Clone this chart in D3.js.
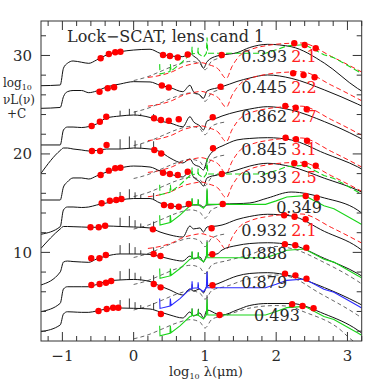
<!DOCTYPE html>
<html><head><meta charset="utf-8">
<script src="https://cdn.jsdelivr.net/npm/d3@7"></script>
<style>body{margin:0;background:#fff}svg{display:block}</style>
</head><body>
<svg id="c" width="382" height="382"></svg>
<script>
// ---------- data ----------
const LOGLAM_GRID = [-1.3,-1.03,-0.985,-0.93,-0.85,-0.73,-0.63,-0.52,-0.38,-0.19,0.0,0.23,0.37,0.51,0.69,0.79,0.84,0.93,0.98,1.03,1.17,1.24,1.45,1.63,1.88,2.21,2.68,3.14,3.2];
const TOTAL = [
 [26.93,27.0,28.70,29.20,29.44,29.31,29.20,29.54,30.05,30.38,30.55,30.63,30.22,29.95,29.88,30.22,29.95,29.37,28.70,29.37,29.95,30.05,30.28,30.81,31.13,30.89,29.20,26.66,26.39],
 [24.63,24.72,25.81,26.32,26.44,26.44,26.22,26.39,26.80,27.10,27.34,27.31,26.97,26.75,26.32,26.97,26.32,25.98,25.65,26.39,26.70,26.83,27.36,27.71,28.02,27.68,26.49,25.07,24.87],
 [20.91,20.91,22.43,22.73,22.73,22.68,22.78,23.04,23.65,23.85,23.95,23.70,23.34,23.14,22.76,23.78,23.27,22.84,22.43,23.34,23.65,23.85,24.29,24.56,24.80,24.46,23.27,21.75,21.52],
 [18.03,20.35,20.60,20.60,20.50,20.40,20.30,20.35,20.50,20.50,20.60,20.50,20.23,19.59,19.08,19.49,18.98,18.67,18.37,19.38,20.57,20.80,21.42,21.57,21.65,21.42,20.06,18.70,18.47],
 [15.32,15.32,16.64,17.15,17.56,17.56,17.45,17.76,18.16,18.57,18.77,18.67,18.27,17.96,17.66,18.27,17.66,17.15,16.74,17.56,17.86,17.96,18.37,18.77,19.05,18.70,17.52,16.33,16.13],
 [11.84,12.61,14.31,14.61,14.61,14.56,14.61,14.81,15.02,15.32,15.47,15.47,15.02,14.76,14.61,14.81,14.81,14.81,14.61,14.81,14.86,14.91,14.95,15.02,15.52,16.13,15.52,14.31,14.00],
 [10.41,12.38,12.63,12.63,12.61,12.58,12.55,12.55,12.68,12.63,12.58,12.48,12.07,11.77,11.56,12.68,12.38,12.48,12.07,12.58,12.68,12.78,13.34,13.65,13.87,13.70,12.12,10.55,10.24],
 [6.69,8.01,9.02,9.12,9.07,9.02,8.99,9.33,9.63,9.84,9.84,9.79,9.58,9.33,9.12,9.63,9.33,9.53,9.02,9.73,9.84,10.24,10.70,10.90,10.98,10.77,9.38,7.86,7.60],
 [3.98,4.83,6.28,6.51,6.51,6.51,6.51,6.74,7.07,7.20,7.25,7.04,6.59,6.18,5.67,6.28,6.08,6.28,5.88,6.59,6.79,7.00,7.60,7.86,7.94,7.60,6.41,4.89,4.66],
 [1.95,2.63,3.74,3.97,3.95,3.91,3.91,4.05,4.25,4.35,4.32,4.25,3.95,3.64,3.34,3.95,3.54,3.84,3.34,4.15,3.74,3.64,4.15,4.61,4.81,4.81,3.74,2.12,1.81]
];
const PLATEAU = [30.55,27.34,23.95,20.6,18.77,15.47,12.58,9.84,7.25,4.32];
const REDSHIFT = ["0.393","0.445","0.862","0.845","0.393","0.349","0.932","0.888","0.879","0.493"];
const RED_LABEL = ["2.1","2.2","2.7","3.1","2.5","","2.1","","",""];

const DOT_LAM = [
 [-0.463,-0.348,-0.258,-0.185,0.412,0.509,0.619,0.759,1.236,2.254,2.40,2.555],
 [-0.479,-0.364,-0.274,0.396,0.493,1.22,2.238,2.384,2.539],
 [-0.589,-0.474,-0.384,0.286,0.383,0.493,0.633,1.11,2.128,2.274,2.429],
 [-0.585,-0.47,-0.38,0.29,0.387,1.114,2.132,2.278,2.433],
 [-0.463,-0.348,-0.258,-0.185,0.412,0.509,0.619,0.759,1.236,2.254,2.40,2.555],
 [-0.449,-0.334,-0.244,-0.171,0.426,0.523,0.633,0.773,1.25,2.414,2.569],
 [-0.605,-0.49,-0.40,0.27,1.094,2.112,2.258,2.413],
 [-0.595,-0.48,-0.39,0.28,0.377,1.104,2.122,2.268,2.423],
 [-0.593,-0.478,-0.388,-0.315,0.282,0.379,1.106,2.124,2.27,2.425],
 [-0.493,-0.378,-0.288,-0.215,0.382,1.206,2.224,2.37,2.525]
];
const DOT_LNU = [
 [29.71,30.15,30.32,30.38,30.05,29.95,29.8,30.1,30.05,31.24,31.06,30.73],
 [26.32,26.67,26.77,26.95,26.75,26.83,28.19,28.02,27.78],
 [22.84,23.27,23.78,23.62,23.45,23.37,23.52,23.72,24.87,24.70,24.53],
 [20.30,20.30,20.91,20.40,20.04,20.57,21.65,21.49,21.34],
 [17.86,18.30,18.54,18.60,18.09,17.96,17.86,18.19,17.96,19.05,18.98,18.80],
 [14.99,15.25,15.32,15.42,14.81,14.71,14.64,14.91,14.91,15.73,15.55],
 [12.55,12.55,12.71,12.34,12.45,13.77,13.62,13.36],
 [9.40,9.40,9.73,9.84,9.63,9.81,10.82,10.72,10.48],
 [6.69,6.79,6.92,7.09,6.79,6.45,6.66,7.84,7.67,7.33],
 [4.05,4.25,4.38,4.38,3.74,3.64,4.73,4.55,4.32]
];

// optical emission lines (starburst rows)
const LINE_LAM = [-0.19,-0.06,0.02,0.10,0.28];
const LINE_H = [0.9,1.1,0.7,0.4,0.8];
const LINE_SCALE = [0,0,0.6,1.1,0,0.9,1,1,1,0.9];
// mid-IR PAH features in total
const PAH_LAM = [0.82,0.91,1.03];
const PAH_H = [0.6,0.5,1.5];
const PAH_SCALE = [0,0,0,0,0,1,0,1,1,1];

// starburst (red dashed) template, relative to its peak
const SB_X  = [0.2,0.37,0.55,0.69,0.85,0.95,1.05,1.18,1.3,1.38,1.5,1.63,1.88,2.2,2.35,2.78,3.2];
const SB_DY = [-3.5,-3.3,-2.9,-2.4,-2.1,-2.0,-2.2,-2.6,-3.6,-2.4,-1.2,-0.7,-0.25,-0.03,0,-1.39,-2.95];
const RED_PEAK = [31.27,28.35,24.85,21.62,19.15,null,13.9,null,null,null];

// dusty starburst (green / blue) template, relative to mid-IR level
const DB_X  = [0.365,0.37,0.51,0.515,0.525,0.65,0.79,0.815,0.82,0.825,0.9,0.905,0.91,0.98,1.02,1.03,1.04,1.2,1.85,2.0,2.15,2.4,2.67,2.81,3.14,3.2];
const DB_DY = [-1.1,-2.1,-1.85,-1.1,-1.8,-1.1,-0.15,-0.1,0.65,-0.05,0.0,0.55,-0.05,-0.4,0.0,1.6,0.0,0.0,0.0,0.35,0.75,0.88,-0.15,-0.45,-1.8,-2.05];
const GREEN_LEVEL = [30.22,null,null,null,17.96,14.88,null,9.46,null,3.64];
const BLUE_LEVEL  = [null,null,null,null,null,null,null,null,6.41,null];

// hot-dust (grey dashed) template, relative to optical plateau
const HOT_X  = [0.0,0.2,0.4,0.6,0.8,0.93,1.0,1.1,1.3];
const HOT_DY = [-3.1,-2.7,-2.1,-1.5,-1.15,-1.4,-2.0,-1.1,-0.7];
const HOT_FIR = [
 [],[],[],[],[],[],[],
 [[1.6,9.7],[2.0,10.6],[2.21,10.4],[2.68,8.95],[3.14,7.09],[3.2,6.8]],
 [[1.6,7.3],[2.0,7.7],[2.2,7.5],[2.6,5.9],[3.14,3.64],[3.2,3.35]],
 [[1.6,4.3],[2.0,4.6],[2.2,4.5],[2.36,4.05],[2.92,2.02],[3.02,1.34],[3.1,0.9]]
];

const X_TICKS = [-1,0,1,2,3];
const Y_TICKS = [10,20,30];

// ---------- drawing ----------
const svg = d3.select('#c');
const x = d3.scaleLinear().domain([-1.3,3.2]).range([41,361.7]);
const y = d3.scaleLinear().domain([1,33.5]).range([341,21]);
const FONT = "'DejaVu Serif', serif";
const INK = '#2a2a2a';

svg.append('rect').attr('width',382).attr('height',382).attr('fill','#fff');
svg.append('clipPath').attr('id','clip').append('rect')
  .attr('x',x(-1.3)).attr('y',y(33.5)).attr('width',x(3.2)-x(-1.3)).attr('height',y(1)-y(33.5));
const g = svg.append('g').attr('clip-path','url(#clip)');

const line = d3.line().x(d=>x(d[0])).y(d=>y(d[1])).curve(d3.curveMonotoneX);
const lineLin = d3.line().x(d=>x(d[0])).y(d=>y(d[1]));

for (let r=0;r<10;r++){
  const P = PLATEAU[r];
  const hot = HOT_X.map((lx,i)=>[lx,P+HOT_DY[i]]).concat(HOT_FIR[r]);
  g.append('path').attr('d',line(hot)).attr('fill','none')
   .attr('stroke','#555').attr('stroke-width',0.9).attr('stroke-dasharray','4,3');
  const tot = LOGLAM_GRID.map((lx,i)=>[lx,TOTAL[r][i]]);
  g.append('path').attr('d',line(tot)).attr('fill','none')
   .attr('stroke','#111').attr('stroke-width',1);
  const base = d3.scaleLinear().domain(LOGLAM_GRID).range(TOTAL[r]);
  if (LINE_SCALE[r]>0){
    LINE_LAM.forEach((lx,i)=>{
      g.append('path').attr('d',lineLin([[lx,base(lx)],[lx,base(lx)+LINE_H[i]*LINE_SCALE[r]]]))
       .attr('stroke','#222').attr('stroke-width',0.9);
    });
  }
  if (PAH_SCALE[r]>0){
    PAH_LAM.forEach((lx,i)=>{
      g.append('path').attr('d',lineLin([[lx,base(lx)],[lx,base(lx)+PAH_H[i]*PAH_SCALE[r]]]))
       .attr('stroke','#222').attr('stroke-width',0.9);
    });
  }
  if (RED_PEAK[r]!==null){
    const sb = SB_X.map((lx,i)=>[lx,RED_PEAK[r]+SB_DY[i]]);
    g.append('path').attr('d',line(sb)).attr('fill','none')
     .attr('stroke','#ff1a1a').attr('stroke-width',1).attr('stroke-dasharray','5,3');
  }
  const lev = GREEN_LEVEL[r]!==null ? GREEN_LEVEL[r] : BLUE_LEVEL[r];
  if (lev!==null){
    const col = GREEN_LEVEL[r]!==null ? '#19d419' : '#2a2aff';
    const db = DB_X.map((lx,i)=>[lx,lev+DB_DY[i]]);
    const p = g.append('path').attr('d',lineLin(db)).attr('fill','none')
     .attr('stroke',col).attr('stroke-width',1.1);
    if (RED_PEAK[r]!==null) p.attr('stroke-dasharray','6,3');
  }
}

for (let r=0;r<10;r++){
  DOT_LAM[r].forEach((lx,i)=>{
    g.append('circle').attr('cx',x(lx)).attr('cy',y(DOT_LNU[r][i])).attr('r',3.2).attr('fill','#ff0000');
  });
}

// row labels (placed in data space)
const LABEL_Y = [29.99,26.75,23.85,20.5,17.61,14.61,12.27,9.89,6.99,3.64];
const LABEL_X = [1.51,1.51,1.51,1.51,1.51,2.0,1.51,1.51,1.51,1.69];
for (let r=0;r<10;r++){
  svg.append('text').attr('x',x(LABEL_X[r])).attr('y',y(LABEL_Y[r])+6)
    .attr('font-family',FONT).attr('font-size',16).attr('fill',INK).text(REDSHIFT[r]);
  if (RED_LABEL[r]) svg.append('text').attr('x',x(2.21)).attr('y',y(LABEL_Y[r])+6)
    .attr('font-family',FONT).attr('font-size',16).attr('fill','#ff2020').text(RED_LABEL[r]);
}

// frame + ticks
const x0=x(-1.3), x1=x(3.2), y0=y(1), y1=y(33.5);
svg.append('rect').attr('x',x0).attr('y',y1).attr('width',x1-x0).attr('height',y0-y1)
  .attr('fill','none').attr('stroke','#333').attr('stroke-width',1);
const tk = svg.append('g').attr('stroke','#333').attr('stroke-width',1);
for (let v=-1.2; v<=3.2001; v+=0.2){
  const vv = Math.round(v*10)/10;
  const major = Math.abs(vv-Math.round(vv))<1e-6;
  const L = major?9:5;
  tk.append('line').attr('x1',x(vv)).attr('x2',x(vv)).attr('y1',y0).attr('y2',y0-L);
  tk.append('line').attr('x1',x(vv)).attr('x2',x(vv)).attr('y1',y1).attr('y2',y1+L);
}
for (let v=2; v<=33; v+=2){
  const major = v%10===0;
  const L = major?9:5;
  tk.append('line').attr('x1',x0).attr('x2',x0+L).attr('y1',y(v)).attr('y2',y(v));
  tk.append('line').attr('x1',x1).attr('x2',x1-L).attr('y1',y(v)).attr('y2',y(v));
}
X_TICKS.forEach(v=>{
  svg.append('text').attr('x',x(v)).attr('y',361).attr('text-anchor','middle')
   .attr('font-family',FONT).attr('font-size',15).attr('fill',INK)
   .text(v<0?('\u2212'+Math.abs(v)):String(v));
});
Y_TICKS.forEach(v=>{
  svg.append('text').attr('x',32).attr('y',y(v)+5.5).attr('text-anchor','end')
   .attr('font-family',FONT).attr('font-size',15).attr('fill',INK).text(String(v));
});

svg.append('text').attr('x',67).attr('y',41.5).attr('font-family',FONT).attr('font-size',16)
  .attr('fill',INK).text('Lock\u2212SCAT, lens cand 1');

const xl = svg.append('text').attr('x',206).attr('y',376).attr('text-anchor','middle')
  .attr('font-family',FONT).attr('font-size',13).attr('fill',INK);
xl.append('tspan').text('log');
xl.append('tspan').attr('font-size',8).attr('dy',2.5).text('10');
xl.append('tspan').attr('dy',-2.5).text(' \u03bb(\u03bcm)');

const yl1 = svg.append('text').attr('x',3).attr('y',87).attr('font-family',FONT).attr('font-size',12).attr('fill',INK);
yl1.append('tspan').text('log');
yl1.append('tspan').attr('font-size',8).attr('dy',2.5).text('10');
svg.append('text').attr('x',3).attr('y',104).attr('font-family',FONT).attr('font-size',12).attr('fill',INK).text('\u03bdL(\u03bd)');
svg.append('text').attr('x',7).attr('y',118).attr('font-family',FONT).attr('font-size',12).attr('fill',INK).text('+C');
</script>
</body></html>
